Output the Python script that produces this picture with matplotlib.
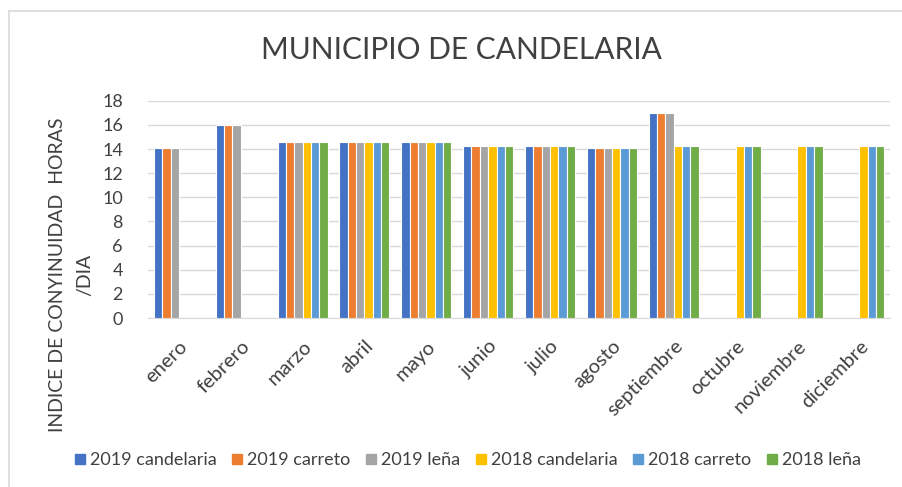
#import necessary libraries
import numpy as np
import matplotlib.pyplot as plt
from matplotlib.lines import Line2D

plt.rcParams['font.family'] = ['Lato', 'DejaVu Sans']

#months on the x axis
months = ['enero', 'febrero', 'marzo', 'abril', 'mayo', 'junio', 'julio',
          'agosto', 'septiembre', 'octubre', 'noviembre', 'diciembre']

#series names and values (nan = no data that month)
series_names = ['2019 candelaria', '2019 carreto', '2019 leña',
                '2018 candelaria', '2018 carreto', '2018 leña']
nan = np.nan
cand_2019 = [14.1, 16, 14.6, 14.6, 14.6, 14.25, 14.25, 14.1, 17, nan, nan, nan]
carr_2019 = [14.1, 16, 14.6, 14.6, 14.6, 14.25, 14.25, 14.1, 17, nan, nan, nan]
lena_2019 = [14.1, 16, 14.6, 14.6, 14.6, 14.25, 14.25, 14.1, 17, nan, nan, nan]
cand_2018 = [nan, nan, 14.6, 14.6, 14.6, 14.25, 14.25, 14.1, 14.25, 14.25, 14.25, 14.25]
carr_2018 = [nan, nan, 14.6, 14.6, 14.6, 14.25, 14.25, 14.1, 14.25, 14.25, 14.25, 14.25]
lena_2018 = [nan, nan, 14.6, 14.6, 14.6, 14.25, 14.25, 14.1, 14.25, 14.25, 14.25, 14.25]
all_series = [cand_2019, carr_2019, lena_2019, cand_2018, carr_2018, lena_2018]

#excel style colours
colors = ['#4472C4', '#ED7D31', '#A5A5A5', '#FFC000', '#5B9BD5', '#70AD47']

fig = plt.figure(figsize=(9.02, 4.87), dpi=100)
ax = fig.add_axes([0.164, 0.347, 0.823, 0.446])

x = np.arange(len(months))
group_w = 0.81
bar_w = group_w / len(all_series)
for i, vals in enumerate(all_series):
    offs = -group_w / 2 + bar_w * (i + 0.5)
    ax.bar(x + offs, vals, width=bar_w, color=colors[i], edgecolor='white',
           linewidth=0.8, label=series_names[i], zorder=3)

ax.set_xlim(-0.5, len(months) - 0.5)
ax.set_ylim(0, 18)
ax.set_yticks(np.arange(0, 19, 2))
ax.set_xticks(x)
ax.set_xticklabels(months, rotation=45, ha='right', rotation_mode='anchor',
                   fontsize=14.5, color='#404040')
ax.tick_params(axis='y', labelsize=13, labelcolor='#404040', length=0, pad=18)
ax.tick_params(axis='x', length=0, pad=14)
ax.grid(axis='y', color='#D9D9D9', linewidth=1, zorder=0)
for s in ['top', 'right', 'left']:
    ax.spines[s].set_visible(False)
ax.spines['bottom'].set_color('#D9D9D9')

#title and y label
fig.text(0.512, 0.897, 'MUNICIPIO DE CANDELARIA', ha='center', va='center',
         fontsize=21.5, color='#404040')
fig.text(0.079, 0.435, 'INDICE DE CONYINUIDAD  HORAS\n/DIA', rotation=90,
         ha='center', va='center', multialignment='center', fontsize=14,
         color='#404040', linespacing=1.7)

#legend
handles = [Line2D([], [], marker='s', linestyle='', color=c, markersize=7) for c in colors]
fig.legend(handles, series_names, loc='center', bbox_to_anchor=(0.518, 0.055),
           ncol=6, frameon=False, fontsize=13, handlelength=0.7,
           handletextpad=0.2, columnspacing=0.8, labelcolor='#404040')

#chart border (left and top visible)
fig.add_artist(Line2D([0.01, 0.01], [0, 0.977], color='#D9D9D9', linewidth=1.2))
fig.add_artist(Line2D([0.01, 1.0], [0.977, 0.977], color='#D9D9D9', linewidth=1.2))

plt.savefig('out.png', dpi=100)
